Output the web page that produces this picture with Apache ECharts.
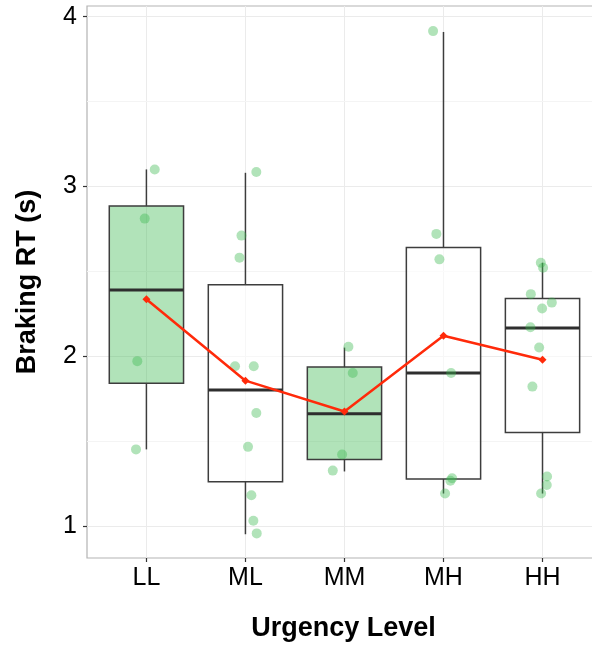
<!DOCTYPE html>
<html>
<head>
<meta charset="utf-8">
<script src="https://cdn.jsdelivr.net/npm/echarts@6/dist/echarts.min.js"></script>
<style>
  html, body { margin: 0; padding: 0; background: #fff; }
  #chart { width: 592px; height: 645px; }
</style>
</head>
<body>
<div id="chart"></div>
<script>
const categories = ['LL', 'ML', 'MM', 'MH', 'HH'];
const yTicks = [1, 2, 3, 4];

// box statistics
const boxLower  = [1.45, 0.95, 1.32, 1.19, 1.19];
const boxQ1     = [1.84, 1.26, 1.39, 1.275, 1.55];
const boxMedian = [2.39, 1.80, 1.66, 1.90, 2.165];
const boxQ3     = [2.885, 2.42, 1.935, 2.64, 2.34];
const boxUpper  = [3.10, 3.08, 2.05, 3.91, 2.55];
const boxFilled = [1, 0, 1, 0, 0];

// mean per urgency level
const means = [2.335, 1.855, 1.673, 2.12, 1.978];

// raw observations and their jitter (in category units)
const pointValues = [
    [3.10, 2.81, 1.97, 1.45],
    [3.085, 2.71, 2.58, 1.94, 1.94, 1.665, 1.465, 1.18, 1.03, 0.955],
    [2.055, 1.90, 1.42, 1.325],
    [3.915, 2.72, 2.57, 1.90, 1.28, 1.265, 1.19],
    [2.55, 2.52, 2.365, 2.315, 2.28, 2.17, 2.05, 1.82, 1.29, 1.24, 1.19]
];
const pointJitter = [
    [0.084, -0.017, -0.092, -0.105],
    [0.11, -0.04, -0.06, -0.105, 0.084, 0.11, 0.026, 0.06, 0.08, 0.114],
    [0.04, 0.084, -0.024, -0.118],
    [-0.105, -0.072, -0.041, 0.077, 0.087, 0.07, 0.016],
    [-0.017, 0.006, -0.118, 0.094, -0.004, -0.122, -0.034, -0.102, 0.046, 0.043, -0.014]
];

const majorGrid = [1, 2, 3, 4];
const minorGrid = [1.5, 2.5, 3.5];

const FONT = '"Liberation Sans", Arial, Helvetica, sans-serif';
const GREEN = '60,185,80';

const chart = echarts.init(document.getElementById('chart'));

const boxData = categories.map((c, i) => [i + 1, boxLower[i], boxQ1[i], boxMedian[i], boxQ3[i], boxUpper[i], boxFilled[i]]);
const pointData = [];
pointValues.forEach((vals, i) => {
    vals.forEach((v, j) => pointData.push([i + 1 + pointJitter[i][j], v]));
});
const meanData = means.map((m, i) => [i + 1, m]);

function renderBox(params, api) {
    const x = api.value(0);
    const lo = api.coord([x, api.value(1)]);
    const q1 = api.coord([x, api.value(2)]);
    const med = api.coord([x, api.value(3)]);
    const q3 = api.coord([x, api.value(4)]);
    const hi = api.coord([x, api.value(5)]);
    const half = api.size([0.75, 0])[0] / 2;
    const filled = api.value(6) === 1;
    const edge = { stroke: '#3d3d3d', lineWidth: 1.5 };
    return {
        type: 'group',
        children: [
            { type: 'line', shape: { x1: lo[0], y1: lo[1], x2: q1[0], y2: q1[1] }, style: edge },
            { type: 'line', shape: { x1: q3[0], y1: q3[1], x2: hi[0], y2: hi[1] }, style: edge },
            {
                type: 'rect',
                shape: { x: q3[0] - half, y: q3[1], width: half * 2, height: q1[1] - q3[1] },
                style: { fill: filled ? 'rgba(' + GREEN + ',0.4)' : 'rgba(255,255,255,0.6)', stroke: '#3d3d3d', lineWidth: 1.5 }
            },
            { type: 'line', shape: { x1: med[0] - half, y1: med[1], x2: med[0] + half, y2: med[1] }, style: { stroke: '#2e2e2e', lineWidth: 3 } }
        ]
    };
}

const gridLines = [].concat(
    categories.map((c, i) => ({ xAxis: i + 1, lineStyle: { color: '#ebebeb' } })),
    majorGrid.map(v => ({ yAxis: v, lineStyle: { color: '#ebebeb' } })),
    minorGrid.map(v => ({ yAxis: v, lineStyle: { color: '#f4f4f4' } }))
);

const option = {
    animation: false,
    backgroundColor: '#fff',
    textStyle: { fontFamily: FONT },
    grid: {
        left: 87,
        right: -2,
        top: 6,
        bottom: 87,
        outerBoundsMode: 'none',
        show: true,
        borderColor: '#b3b3b3',
        borderWidth: 1.2
    },
    xAxis: {
        type: 'value',
        min: 0.4,
        max: 5.52,
        name: 'Urgency Level',
        nameLocation: 'middle',
        nameGap: 57,
        nameTextStyle: { fontSize: 27, fontWeight: 'bold', color: '#000', fontFamily: FONT, padding: [0, 0, 0, 6] },
        axisLine: { show: false },
        splitLine: { show: false },
        axisTick: { show: true, length: 4, customValues: [1, 2, 3, 4, 5], lineStyle: { color: '#333', width: 1.2 } },
        axisLabel: {
            customValues: [1, 2, 3, 4, 5],
            formatter: v => categories[Math.round(v) - 1],
            fontSize: 25,
            color: '#000',
            margin: 8,
            fontFamily: FONT
        }
    },
    yAxis: {
        type: 'value',
        min: 0.81,
        max: 4.063,
        name: 'Braking RT (s)',
        nameLocation: 'middle',
        nameGap: 46,
        nameTextStyle: { fontSize: 27, fontWeight: 'bold', color: '#000', fontFamily: FONT },
        axisLine: { show: false },
        splitLine: { show: false },
        axisTick: { show: true, length: 4, customValues: yTicks, lineStyle: { color: '#333', width: 1.2 } },
        axisLabel: {
            customValues: yTicks,
            fontSize: 25,
            color: '#000',
            margin: 10,
            fontFamily: FONT
        }
    },
    series: [
        {
            type: 'scatter',
            data: [],
            silent: true,
            z: 1,
            markLine: {
                silent: true,
                z: 1,
                symbol: ['none', 'none'],
                label: { show: false },
                lineStyle: { type: 'solid', width: 1 },
                data: gridLines
            }
        },
        {
            type: 'custom',
            renderItem: renderBox,
            data: boxData,
            encode: { x: 0, y: [1, 2, 3, 4, 5] },
            z: 2
        },
        {
            type: 'scatter',
            data: pointData,
            symbolSize: 10,
            itemStyle: { color: 'rgba(' + GREEN + ',0.5)' },
            z: 3
        },
        {
            type: 'line',
            data: meanData,
            symbol: 'diamond',
            symbolSize: 8,
            itemStyle: { color: '#ff2a0a' },
            lineStyle: { color: '#ff2a0a', width: 2.5 },
            z: 4
        }
    ]
};

chart.setOption(option);
</script>
</body>
</html>
